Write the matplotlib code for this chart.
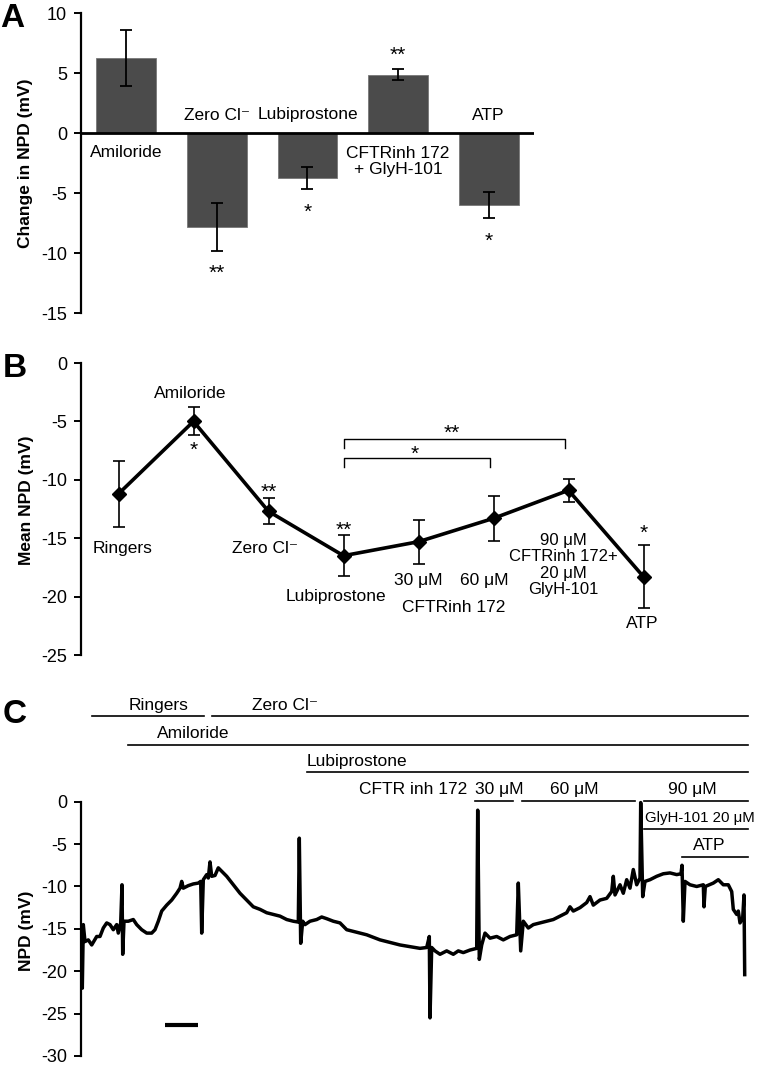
"""Nasal potential difference: bar changes (A), mean NPD by treatment (B), example trace (C)."""
import matplotlib
matplotlib.use('Agg')
import matplotlib.pyplot as plt

plt.rcParams['font.family'] = ['Liberation Sans', 'DejaVu Sans']
plt.rcParams['mathtext.default'] = 'regular'
plt.rcParams['axes.unicode_minus'] = False

# ---- data: panel A (change in NPD, mV) ----
a_names = ['Amiloride', 'Zero Cl⁻', 'Lubiprostone', 'CFTRinh 172\n+ GlyH-101', 'ATP']
a_vals = [6.25, -7.8, -3.75, 4.85, -6.0]
a_errs = [2.3, 2.0, 0.9, 0.45, 1.05]
a_stars = ['', '**', '*', '**', '*']

# ---- data: panel B (mean NPD, mV) ----
b_names = ['Ringers', 'Amiloride', 'Zero Cl⁻', 'Lubiprostone', '30 μM', '60 μM',
           '90 μM\nCFTRinh 172+\n20 μM\nGlyH-101', 'ATP']
b_means = [-11.2, -5.0, -12.7, -16.5, -15.3, -13.3, -10.9, -18.3]
b_errs = [2.8, 1.2, 1.1, 1.75, 1.9, 1.95, 1.0, 2.7]

# ---- data: panel C (example trace, time in arbitrary units) ----
trace_t = [0.5, 1.3, 2.3, 4, 7.3, 10.7, 15.7, 19, 22.3, 25.7, 29, 32.3, 35.7, 37.3, 39.7,
           41, 41.7, 43, 47.3, 52.3, 55.7, 60.7, 65.7, 70.7, 74, 77.3, 80.7, 85.7, 90.7,
           95.7, 99, 100.7, 102.3, 107.3, 112.3, 117.3, 119.7, 120.7, 122.3, 125.7, 127.3,
           129, 130.7, 134, 137.3, 140.7, 145.7, 152.3, 159, 165.7, 172.3, 179, 185.7,
           192.3, 199, 205.7, 212.3, 217.3, 218.3, 219.7, 221.7, 224, 229, 235.7, 240.7,
           245.7, 252.3, 259, 265.7, 272.3, 279, 285.7, 292.3, 299, 305.7, 312.3, 319,
           329, 339, 345.7, 348.3, 349, 350.7, 354, 359, 365.7, 372.3, 377.3, 382.3, 389,
           395.7, 396.7, 398.3, 400.7, 404, 409, 415.7, 422.3, 429, 435.7, 437.3, 439.7,
           442.3, 447.3, 452.3, 459, 465.7, 472.3, 479, 485.7, 489, 492.3, 499, 505.7,
           509, 512.3, 519, 525.7, 530.7, 532.3, 534, 539, 542.3, 545.7, 549, 552.3,
           555.7, 559, 559.7, 561.7, 564, 569, 575.7, 582.3, 589, 595.7, 600, 601, 602.3,
           604, 609, 615.7, 622.3, 623, 624.3, 632.3, 637.3, 642.3, 647.3, 650.7, 652.3,
           655.7, 657.3, 659, 661.7, 663, 663.7]
trace_v = [-14.7, -22.0, -14.5, -16.5, -16.3, -16.9, -15.9, -15.9, -14.9, -14.3, -14.5,
           -15.1, -14.5, -15.5, -14.3, -9.8, -18.0, -14.1, -14.1, -13.9, -14.5, -15.1,
           -15.5, -15.5, -15.1, -14.1, -12.9, -12.2, -11.6, -10.8, -10.2, -9.4, -10.2,
           -9.9, -9.7, -9.6, -9.4, -15.5, -9.2, -8.6, -9.0, -7.1, -8.8, -8.7, -7.8, -8.2,
           -8.8, -9.8, -10.8, -11.6, -12.4, -12.7, -13.1, -13.3, -13.5, -13.9, -14.1,
           -14.2, -4.3, -16.7, -14.1, -14.5, -14.1, -13.9, -13.6, -13.8, -14.1, -14.3,
           -15.1, -15.3, -15.5, -15.7, -16.0, -16.3, -16.5, -16.7, -16.9, -17.1, -17.3,
           -17.2, -15.9, -25.5, -17.2, -17.6, -18.0, -17.6, -18.0, -17.6, -17.8, -17.5,
           -17.3, -1.0, -18.6, -16.9, -15.5, -16.1, -15.9, -16.3, -15.9, -15.7, -9.6,
           -17.6, -14.1, -14.9, -14.5, -14.3, -14.1, -13.9, -13.5, -13.1, -12.4, -12.9,
           -12.5, -11.9, -11.2, -12.2, -11.6, -11.4, -10.6, -8.8, -11.0, -9.8, -10.8,
           -9.2, -10.2, -8.0, -9.8, -9.0, -0.1, -11.2, -9.4, -9.2, -8.8, -8.5, -8.4,
           -8.6, -8.5, -7.5, -14.1, -9.4, -9.8, -10.0, -9.8, -12.4, -10.0, -9.6, -9.2,
           -9.8, -9.8, -10.6, -12.7, -13.3, -12.9, -14.3, -13.7, -11.0, -20.4]

# solution bars above the trace: label, start, end, bar level, label x, alignment
c_bars = [
    ('Ringers', 11, 123, 10.1, 78, 'center'),
    ('Zero Cl⁻', 131, 667, 10.1, 204, 'center'),
    ('Amiloride', 47, 667, 6.7, 112, 'center'),
    ('Lubiprostone', 226, 667, 3.5, 276, 'center'),
    ('30 μM', 394, 432, 0.1, 418, 'center'),
    ('60 μM', 441, 554, 0.1, 493, 'center'),
    ('90 μM', 563, 667, 0.1, 611, 'center'),
    ('GlyH-101 20 μM', 563, 667, -3.2, 564, 'left'),
    ('ATP', 601, 667, -6.5, 628, 'center'),
]

W, H = 757, 1065
fig = plt.figure(figsize=(W / 100, H / 100), dpi=100)


def px_axes(left, top, right, bottom):
    return fig.add_axes([left / W, 1 - bottom / H, (right - left) / W, (bottom - top) / H])


def style_left(ax):
    for s in ('top', 'right', 'bottom'):
        ax.spines[s].set_visible(False)
    ax.spines['left'].set_linewidth(1.6)
    ax.tick_params(axis='y', length=5, width=1.4, labelsize=13, pad=5)
    ax.set_xticks([])


# ---------------- Panel A ----------------
axA = px_axes(81, 13, 534, 313)
style_left(axA)
axA.bar(range(5), a_vals, width=0.66, color='#4b4b4b', edgecolor='#777777', linewidth=0.6,
        yerr=a_errs, capsize=4, error_kw=dict(elinewidth=1.3, capthick=1.3, ecolor='k'))
axA.axhline(0, color='k', lw=2)
axA.set_xlim(-0.5, 4.5)
axA.set_ylim(-15, 10)
axA.set_yticks([10, 5, 0, -5, -10, -15])
axA.set_ylabel('Change in NPD (mV)', fontsize=12.5, fontweight='bold')
axA.yaxis.set_label_coords(-0.105, 0.5)
a_label_y = [-1.65, 1.5, 1.5, -2.4, 1.5]
for i, name in enumerate(a_names):
    axA.text(i, a_label_y[i], name, ha='center', va='center', fontsize=12.5, linespacing=1.1)
a_star_y = [0, -11.7, -6.6, 6.5, -9.05]
for i, st in enumerate(a_stars):
    if st:
        axA.text(i, a_star_y[i], st, ha='center', va='center', fontsize=15)

# ---------------- Panel B ----------------
axB = px_axes(81, 363, 681, 655)
style_left(axB)
xb = list(range(len(b_means)))
axB.errorbar(xb, b_means, yerr=b_errs, fmt='-D', color='k', lw=2.6, ms=7,
             elinewidth=1.2, capsize=4, capthick=1.2)
axB.set_xlim(-0.5, 7.5)
axB.set_ylim(-25, 0)
axB.set_yticks([0, -5, -10, -15, -20, -25])
axB.set_ylabel('Mean NPD (mV)', fontsize=12.5, fontweight='bold')
axB.yaxis.set_label_coords(-0.078, 0.53)
b_label_pos = [(0.05, -15.9), (0.95, -2.6), (1.96, -15.9), (2.9, -20.0),
               (4.0, -18.6), (4.87, -18.6), (5.93, -17.3), (6.98, -22.3)]
for name, (x, y) in zip(b_names, b_label_pos):
    fs = 12 if '\n' in name else 12.5
    axB.text(x, y, name, ha='center', va='center', fontsize=fs, linespacing=1.12)
axB.text(4.47, -20.9, 'CFTRinh 172', ha='center', va='center', fontsize=12.5)
for x, y, st in [(1.0, -7.5, '*'), (2.0, -11.1, '**'), (3.0, -14.3, '**'), (7.0, -14.6, '*')]:
    axB.text(x, y, st, ha='center', va='center', fontsize=15)
# significance brackets
axB.plot([3, 3, 5.95, 5.95], [-7.3, -6.5, -6.5, -7.3], color='k', lw=1)
axB.plot([3, 3, 4.95, 4.95], [-8.9, -8.1, -8.1, -8.9], color='k', lw=1)
axB.text(4.45, -6.0, '**', ha='center', va='center', fontsize=15)
axB.text(3.95, -7.8, '*', ha='center', va='center', fontsize=15)

# ---------------- Panel C ----------------
axC = px_axes(81, 700, 753, 1056)
style_left(axC)
axC.spines['left'].set_bounds(-30, 0)
axC.plot(trace_t, trace_v, color='k', lw=2.5)
axC.set_xlim(0, 672)
axC.set_ylim(-30, 12)
axC.set_yticks([0, -5, -10, -15, -20, -25, -30])
axC.set_ylabel('NPD (mV)', fontsize=12.5, fontweight='bold')
axC.yaxis.set_label_coords(-0.07, 0.353)
for name, t0, t1, lvl, tx, ha in c_bars:
    axC.plot([t0, t1], [lvl, lvl], color='k', lw=1.2, clip_on=False)
    fs = 10.8 if ha == 'left' else 12.5
    axC.text(tx, lvl + 1.3, name, ha=ha, va='center', fontsize=fs, clip_on=False)
axC.text(386, 1.5, 'CFTR inh 172', ha='right', va='center', fontsize=12.5)
# time scale bar
axC.plot([84, 117], [-26.4, -26.4], color='k', lw=3, solid_capstyle='butt')

# panel letters
fig.text(0.0, 1 - 27 / H, 'A', fontsize=24, fontweight='bold', va='baseline')
fig.text(3 / W, 1 - 377 / H, 'B', fontsize=24, fontweight='bold', va='baseline')
fig.text(3 / W, 1 - 723 / H, 'C', fontsize=24, fontweight='bold', va='baseline')

fig.savefig('out.png', dpi=100)
